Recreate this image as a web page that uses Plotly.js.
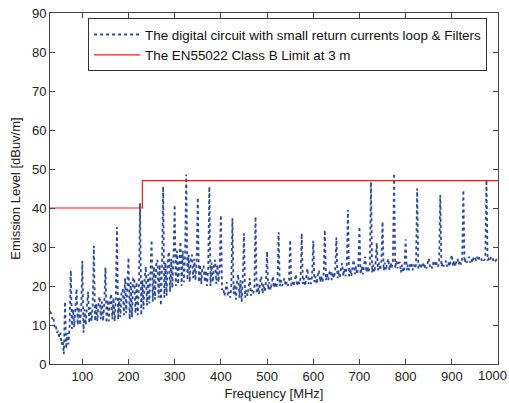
<!DOCTYPE html>
<html>
<head>
<meta charset="utf-8">
<script src="https://cdn.plot.ly/plotly-3.0.1.min.js"></script>
<style>html,body{margin:0;padding:0;background:#fff;}#chart{width:509px;height:403px;}</style>
</head>
<body>
<div id="chart"></div>
<script>
// Sweep: start frequency and step (MHz) of the measured trace
const sweepStartMHz = 30;
const sweepStepMHz = 2.5;

// Measured emission level [dBuV/m], one value per sweep step (rows of 25 MHz)
const level = [
  13.5, 13, 11.5, 12, 9.5, 10, 8, 8.5, 7, 8,            // 30
  5, 6, 2.5, 16, 4, 8, 5, 10, 24, 9,                    // 55
  14, 9.5, 14.5, 19.3, 10, 14.5, 10, 13.5, 26.4, 8,     // 80
  14, 10, 15, 18.5, 10.5, 14.5, 11, 15, 30.3, 11,       // 105
  15.5, 11, 16, 17.3, 11.5, 16, 11, 15.5, 24.7, 10.5,   // 130
  16.5, 11, 16.5, 18, 11.5, 17, 11, 16.5, 35.1, 11.5,   // 155
  17, 12, 19, 19, 12.5, 22, 13, 21.5, 27.3, 11.5,       // 180
  21, 12, 22, 22.1, 13, 21, 12.5, 20, 41.2, 12.5,       // 205
  21.5, 14, 22.5, 25, 15, 23, 15.5, 24, 31.8, 16,       // 230
  25, 16.5, 25.5, 26.7, 17, 25.5, 15, 25, 45.5, 17,     // 255
  26, 17.5, 27, 28.8, 18.5, 27, 19.5, 28, 40.8, 20,     // 280
  29, 20.5, 28.5, 31.4, 20, 29, 21, 28, 48.6, 21.5,     // 305
  28, 21, 27.5, 28, 22, 27, 21.5, 26.5, 42.7, 21,       // 330
  25.5, 20.5, 25, 25, 21, 24, 20, 24.5, 45.5, 20,       // 355
  26, 21, 25.5, 26.7, 20.5, 25.5, 21, 24.5, 38.2, 19,   // 380
  19.5, 17.5, 19, 21, 17.5, 18.5, 17, 19.5, 37.4, 18,   // 405
  20.5, 16.5, 21.5, 23, 17, 21.5, 16, 22, 33.5, 17,     // 430
  19, 17.5, 19.5, 22, 17.5, 19, 18, 19.5, 37.8, 18,     // 455
  20.5, 18, 21, 22.5, 18, 20.5, 18.5, 21, 28.8, 19,     // 480
  21, 19, 20.5, 22.5, 19.5, 21, 19.5, 21, 33.8, 20,     // 505
  21.5, 20, 21, 22, 20, 21, 20, 21.5, 31.8, 20,         // 530
  21, 20, 21.5, 23, 20, 21.5, 20.5, 22, 33.5, 20.5,     // 555
  22, 20, 22.5, 24.5, 20.5, 22, 20.5, 22.5, 31.6, 21,   // 580
  22.5, 20.5, 23, 24, 21, 22.5, 21, 23, 34.4, 21.5,     // 605
  23, 21.5, 23.5, 24, 21.5, 23.5, 22, 24, 32.4, 22,     // 630
  24, 22, 24.5, 25.9, 22.5, 24.5, 22.5, 25, 39.5, 22.5, // 655
  24.5, 22.5, 25, 26.7, 23, 25, 23, 25, 35.2, 23,       // 680
  25, 23, 25.5, 27.5, 23.5, 25, 23.5, 25.5, 46.7, 23.5, // 705
  25.5, 23.5, 26, 31, 24, 26, 24, 26.5, 36.5, 24,       // 730
  26, 24, 26, 27, 24, 26, 24.5, 26.5, 48.9, 24.5,       // 755
  26.5, 24.5, 26, 26, 23.5, 25.5, 23.5, 25, 32, 24,     // 780
  25.5, 24, 25.5, 26, 24, 25.5, 24.5, 25.5, 45, 24.5,   // 805
  25.5, 24.5, 25.5, 26, 24.5, 25.5, 24.5, 26, 27.1, 25, // 830
  25.5, 24.5, 26, 26.5, 25, 26, 25, 26, 43.3, 25,       // 855
  26, 25, 26, 26.5, 25, 26, 25, 26.5, 28, 25,           // 880
  26.5, 25, 26.5, 27, 25.5, 26.5, 25.5, 27, 44.6, 26,   // 905
  27, 26, 27, 27.5, 26, 27, 26, 27.5, 27.5, 26.5,       // 930
  27.5, 26.5, 27.5, 27.5, 26.5, 27, 26.5, 27.5, 47.2, 26.5, // 955
  27, 26.5, 27.5, 27.5, 26.5, 27, 26.5, 27, 26.5        // 980
];

// EN55022 Class B limit at 3 m (step at 230 MHz)
const limitFreq = [30, 230, 230, 1000];
const limitLevel = [40, 40, 47, 47];

const xTicks = [100, 200, 300, 400, 500, 600, 700, 800, 900, 1000];
const xTickText = ['100', '200', '300', '400', '500', '600', '700', '800', '900', ''];
const lastXTickLabel = '1000';
const yTicks = [0, 10, 20, 30, 40, 50, 60, 70, 80, 90];

const seriesNames = [
  'The digital circuit with small return currents loop & Filters',
  'The EN55022 Class B Limit at 3 m'
];

const freq = level.map((_, i) => sweepStartMHz + i * sweepStepMHz);

const font = 'Arial, "Liberation Sans", sans-serif';
const textColor = '#222';

const traces = [
  {
    x: freq, y: level, type: 'scatter', mode: 'lines', name: seriesNames[0],
    line: {color: '#2b4a9c', width: 1.8, dash: 'dot'}
  },
  {
    x: limitFreq, y: limitLevel, type: 'scatter', mode: 'lines', name: seriesNames[1],
    line: {color: '#ff1a1a', width: 1.2}
  }
];

const axisCommon = {
  showgrid: false, zeroline: false,
  showline: true, linecolor: '#444', linewidth: 1, mirror: 'ticks',
  ticks: 'inside', ticklen: 5, tickcolor: '#444',
  tickfont: {family: font, size: 13, color: textColor}
};

const layout = {
  width: 509, height: 403,
  margin: {l: 50, r: 11, t: 13, b: 39},
  paper_bgcolor: '#fff', plot_bgcolor: '#fff',
  showlegend: true,
  legend: {
    x: 0.085, y: 0.985, xanchor: 'left', yanchor: 'top',
    bgcolor: '#fff', bordercolor: '#333', borderwidth: 1,
    font: {family: font, size: 13.4, color: '#111'},
    itemwidth: 46, tracegroupgap: 0
  },
  xaxis: Object.assign({}, axisCommon, {
    range: [30, 1000], tickvals: xTicks, ticktext: xTickText,
    title: {text: 'Frequency [MHz]', font: {family: font, size: 13, color: textColor}, standoff: 6}
  }),
  yaxis: Object.assign({}, axisCommon, {
    range: [0, 90], tickvals: yTicks, ticktext: yTicks.map(String),
    title: {text: 'Emission Level [dBuv/m]', font: {family: font, size: 13, color: textColor}, standoff: 8}
  }),
  annotations: [{
    text: lastXTickLabel, showarrow: false,
    xref: 'paper', yref: 'paper', x: 1.0245, y: -0.034,
    xanchor: 'right', yanchor: 'middle',
    font: {family: font, size: 13, color: textColor}
  }]
};

Plotly.newPlot('chart', traces, layout, {displayModeBar: false, staticPlot: true});
</script>
</body>
</html>
